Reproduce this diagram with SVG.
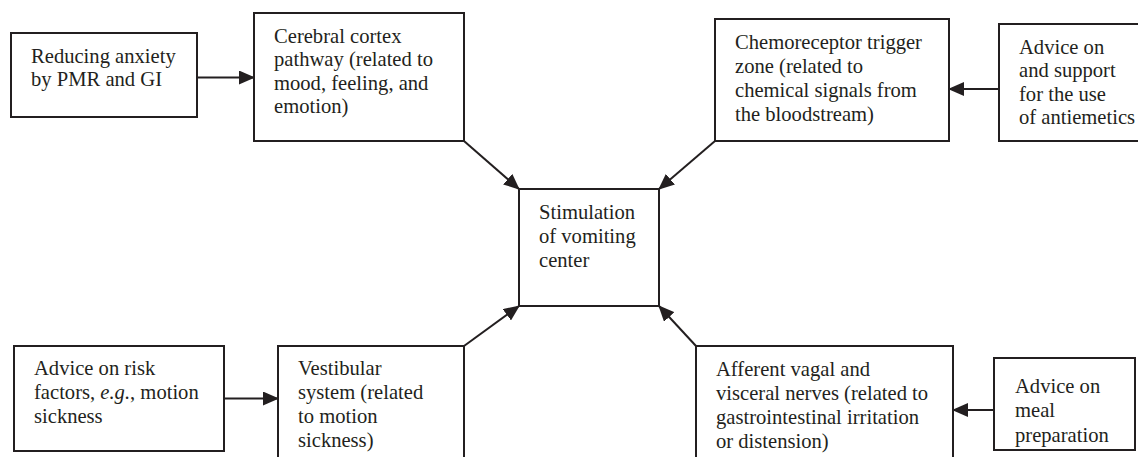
<svg xmlns="http://www.w3.org/2000/svg" width="1138" height="457" viewBox="0 0 1138 457">
<style>
.box{fill:#fff;stroke:#231f20;stroke-width:2}
.t{font-family:"Liberation Serif","Times New Roman",serif;font-size:20.6px;fill:#231f20}
.c{stroke:#231f20;stroke-width:2;fill:none;marker-end:url(#ah)}
</style>
<defs>
<marker id="ah" markerUnits="userSpaceOnUse" markerWidth="16" markerHeight="14" viewBox="0 0 16 14" refX="15" refY="7" orient="auto">
<path d="M0,0 L16,7 L0,14 z" fill="#231f20"/>
</marker>
</defs>
<rect width="1138" height="457" fill="#fff"/>
<g id="connectors">
<line class="c" x1="197" y1="77.5" x2="254" y2="77.5"/>
<line class="c" x1="999" y1="89" x2="949" y2="89"/>
<line class="c" x1="224" y1="398.5" x2="278" y2="398.5"/>
<line class="c" x1="994" y1="410" x2="953" y2="410"/>
<line class="c" x1="464" y1="141" x2="519" y2="189"/>
<line class="c" x1="715" y1="141" x2="659" y2="189"/>
<line class="c" x1="464" y1="346" x2="519" y2="306"/>
<line class="c" x1="696" y1="346" x2="659" y2="306"/>
</g>
<g id="n_pmr">
<rect class="box" x="11" y="33" width="186" height="84"/>
<text class="t" x="31" y="63">Reducing anxiety</text>
<text class="t" x="31" y="86">by PMR and GI</text>
</g>
<g id="n_cortex">
<rect class="box" x="254" y="13" width="210" height="128"/>
<text class="t" x="274" y="42.5">Cerebral cortex</text>
<text class="t" x="274" y="66">pathway (related to</text>
<text class="t" x="274" y="89.5">mood, feeling, and</text>
<text class="t" x="274" y="113">emotion)</text>
</g>
<g id="n_ctz">
<rect class="box" x="715" y="19" width="234" height="122"/>
<text class="t" x="735" y="49">Chemoreceptor trigger</text>
<text class="t" x="735" y="73">zone (related to</text>
<text class="t" x="735" y="97">chemical signals from</text>
<text class="t" x="735" y="121">the bloodstream)</text>
</g>
<g id="n_antiemetics">
<rect class="box" x="999" y="24" width="150" height="117"/>
<text class="t" x="1019" y="53.5">Advice on</text>
<text class="t" x="1019" y="77">and support</text>
<text class="t" x="1019" y="100.7">for the use</text>
<text class="t" x="1019" y="124.3">of antiemetics</text>
</g>
<g id="n_center">
<rect class="box" x="519" y="189" width="140" height="117"/>
<text class="t" x="539" y="218.5">Stimulation</text>
<text class="t" x="539" y="242.5">of vomiting</text>
<text class="t" x="539" y="266.5">center</text>
</g>
<g id="n_risk">
<rect class="box" x="14" y="346" width="210" height="105"/>
<text class="t" x="34" y="375">Advice on risk</text>
<text class="t" x="34" y="399">factors, <tspan font-style="italic">e.g.</tspan>, motion</text>
<text class="t" x="34" y="422.7">sickness</text>
</g>
<g id="n_vestibular">
<rect class="box" x="278" y="346" width="186" height="130"/>
<text class="t" x="298" y="375">Vestibular</text>
<text class="t" x="298" y="399">system (related</text>
<text class="t" x="298" y="422.7">to motion</text>
<text class="t" x="298" y="446.5">sickness)</text>
</g>
<g id="n_vagal">
<rect class="box" x="696" y="346" width="257" height="130"/>
<text class="t" x="716" y="376">Afferent vagal and</text>
<text class="t" x="716" y="400">visceral nerves (related to</text>
<text class="t" x="716" y="424">gastrointestinal irritation</text>
<text class="t" x="716" y="448">or distension)</text>
</g>
<g id="n_meal">
<rect class="box" x="994" y="358" width="141" height="92"/>
<text class="t" x="1015" y="392.5">Advice on</text>
<text class="t" x="1015" y="417">meal</text>
<text class="t" x="1015" y="441.5">preparation</text>
</g>
</svg>
